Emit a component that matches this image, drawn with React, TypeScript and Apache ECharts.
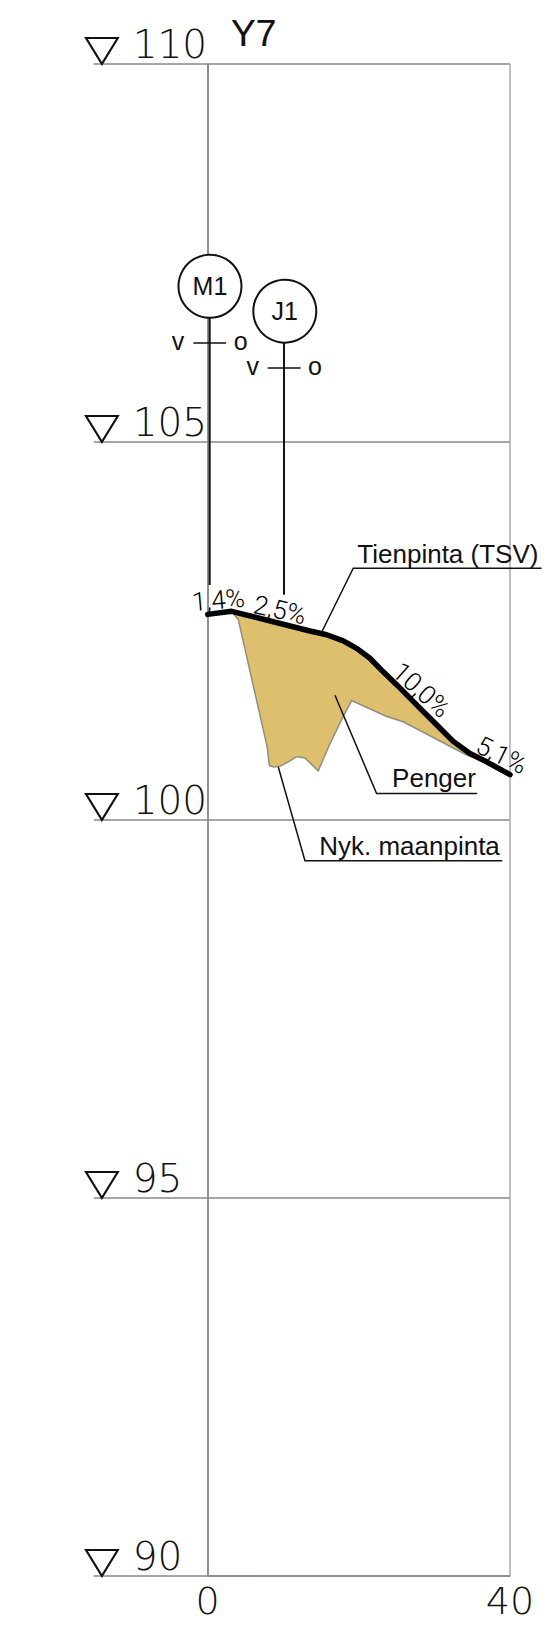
import React, { useEffect, useRef } from "react";
import * as echarts from "echarts";

const xTicks = [0, 40];
const elevations = [90, 95, 100, 105, 110];

const roadSurface: number[][] = [
  [0, 102.72], [3.17, 102.76], [13.53, 102.5], [15.74, 102.45], [17.94, 102.37], [19.71, 102.27],
  [21.47, 102.14], [23.23, 101.96], [25, 101.79], [28.08, 101.48], [30.29, 101.26], [32.49, 101.04],
  [34.7, 100.88], [36.9, 100.77], [40, 100.6],
];
const embankment: number[][] = [
  [3.17, 102.76], [13.53, 102.5], [15.74, 102.45], [17.94, 102.37], [19.71, 102.27],
  [21.47, 102.14], [23.23, 101.96], [25, 101.79], [28.08, 101.48], [30.29, 101.26], [32.49, 101.04],
  [34.7, 100.88], [36.9, 100.77],
  [34.26, 100.86], [25.87, 101.3], [23.68, 101.37], [19.05, 101.58], [17.94, 101.37],
  [16.18, 101.01], [14.63, 100.65], [12.87, 100.82], [11.77, 100.84], [10.66, 100.77],
  [9.56, 100.71], [8.68, 100.7], [8.15, 100.72], [7.9, 100.95], [4.05, 102.65],
];

const leaderTien = [[15.16, 102.5], [19.26, 103.33], [44.18, 103.33]];
const leaderPenger = [[16.84, 101.65], [22.35, 100.35], [35.66, 100.35]];
const leaderNyk = [[9.34, 100.7], [12.87, 99.46], [38.97, 99.46]];
const stemM1 = [[0.26, 106.64], [0.26, 103.11]];
const stemJ1 = [[10.1, 106.32], [10.1, 102.98]];
const crossM1 = [[-1.9, 106.31], [2.44, 106.31]];
const crossJ1 = [[7.94, 105.98], [12.3, 105.98]];

const circleLabels = [
  { name: "M1", value: [0.3, 107.06] },
  { name: "J1", value: [10.2, 106.73] },
];
const sideLabels = [
  { name: "v", value: [-3.93, 106.33] },
  { name: "o", value: [4.36, 106.33] },
  { name: "v", value: [5.95, 106.0] },
  { name: "o", value: [14.2, 106.0] },
];
const calloutLabels = [
  { name: "Tienpinta (TSV)", value: [19.8, 103.52] },
  { name: "Penger", value: [24.4, 100.56] },
  { name: "Nyk. maanpinta", value: [14.75, 99.66] },
];
const slopeLabels = [
  { name: "1,4%", value: [1.4, 102.91], angle: 5 },
  { name: "2,5%", value: [9.56, 102.78], angle: -13 },
  { name: "10,0%", value: [28.3, 101.72], angle: -42 },
  { name: "5,1%", value: [38.9, 100.86], angle: -26 },
];
const markerX = -14;

const SANS = "Liberation Sans";
const THIN = "Roboto";
const AXIS_FONT = "DejaVu Sans";

const thinLeaders = [leaderTien, leaderPenger, leaderNyk, crossM1, crossJ1];
const stems = [stemM1, stemJ1];

function polylines(name: string, lines: number[][][], width: number) {
  return {
    type: "custom", name, coordinateSystem: "cartesian2d", clip: false, z: 6,
    data: lines.map((_, i) => [i]),
    encode: { x: 0 },
    renderItem: (params: any, api: any) => ({
      type: "polyline",
      shape: { points: lines[params.dataIndex].map((p) => api.coord(p)) },
      style: { fill: "none", stroke: "#111", lineWidth: width },
    }),
  };
}

const solidLabel = { itemStyle: { opacity: 1 } };

export default function App() {
  const ref = useRef<HTMLDivElement>(null);
  useEffect(() => {
    const chart = echarts.init(ref.current!, undefined, { renderer: "svg" });
    chart.setOption({
      animation: false,
      backgroundColor: "#fff",
      title: {
        text: "Y7", left: 226, top: 10,
        textStyle: {
          fontFamily: SANS, fontSize: 37, fontWeight: "normal", color: "#111",
          textBorderColor: "#111", textBorderWidth: 0.2,
        },
      },
      grid: { left: 207.7, top: 64, width: 302.3, height: 1512, containLabel: false },
      xAxis: {
        type: "value", min: 0, max: 40, interval: 40,
        axisLine: { show: true, lineStyle: { color: "#888", width: 1.5 } },
        axisTick: { show: false },
        splitLine: { show: true, lineStyle: { color: ["#888", "#aaa"], width: 1.5 } },
        axisLabel: {
          margin: 6, fontFamily: AXIS_FONT, fontWeight: 200, fontSize: 38, color: "#111",
          formatter: (v: number) => (xTicks.includes(v) ? String(v) : ""),
        },
      },
      yAxis: {
        type: "value", min: 90, max: 110, interval: 5,
        axisLine: { show: true, onZero: false, lineStyle: { color: "#888", width: 1.5 } },
        axisTick: { show: true, length: 114, lineStyle: { color: "#888", width: 1.5 } },
        splitLine: { show: true, lineStyle: { color: "#888", width: 1.5 } },
        axisLabel: {
          margin: 75, align: "left", verticalAlign: "bottom", lineHeight: 40,
          fontFamily: AXIS_FONT, fontWeight: 200, fontSize: 39, color: "#111",
          formatter: (v: number) => (elevations.includes(v) ? String(v) : ""),
        },
      },
      series: [
        {
          type: "custom", coordinateSystem: "cartesian2d", clip: false, z: 3,
          data: embankment,
          encode: { x: 0, y: 1 },
          renderItem: (params: any, api: any) => {
            if (params.dataIndex !== 0) return { type: "group", children: [] };
            return {
              type: "polygon",
              shape: { points: embankment.map((p) => api.coord(p)) },
              style: { fill: "#DDBF6E", stroke: "#8f8f80", lineWidth: 1.5 },
            };
          },
        },
        {
          type: "line", data: roadSurface, clip: false, showSymbol: false, symbol: "none", z: 5,
          lineStyle: { color: "#000", width: 5.5, cap: "round", join: "round" },
        },
        polylines("leaders", thinLeaders, 1.5),
        polylines("stems", stems, 2),
        {
          type: "scatter", clip: false, z: 7, symbol: "circle", symbolSize: 63,
          data: circleLabels,
          itemStyle: { color: "#fff", borderColor: "#111", borderWidth: 2, opacity: 1 },
          label: {
            show: true, position: "inside", formatter: "{b}",
            fontFamily: SANS, fontSize: 25, color: "#111",
          },
        },
        {
          type: "scatter", clip: false, z: 4,
          symbol: "path://M0 0 L32 0 L16 26 Z", symbolSize: [32, 26], symbolOffset: [0, -13],
          data: elevations.map((e) => [markerX, e]),
          itemStyle: { color: "rgba(255,255,255,0)", borderColor: "#111", borderWidth: 2, opacity: 1 },
        },
        {
          type: "scatter", clip: false, z: 8, symbolSize: 0, data: sideLabels, ...solidLabel,
          label: {
            show: true, position: "inside", align: "center", verticalAlign: "middle",
            formatter: "{b}", fontFamily: SANS, fontSize: 25, color: "#111",
          },
        },
        {
          type: "scatter", clip: false, z: 8, symbolSize: 0, data: calloutLabels, ...solidLabel,
          label: {
            show: true, position: "inside", align: "left", verticalAlign: "middle",
            formatter: "{b}", fontFamily: SANS, fontSize: 26, color: "#111",
          },
        },
        {
          type: "scatter", clip: false, z: 8, symbolSize: 0, ...solidLabel,
          data: slopeLabels.map((s) => ({
            name: s.name, value: s.value,
            label: { rotate: s.angle },
          })),
          label: {
            show: true, position: "inside", align: "center", verticalAlign: "middle",
            formatter: "{b}", fontFamily: THIN, fontWeight: 300, fontSize: 26, color: "#000",
          },
        },
      ],
    });
    return () => chart.dispose();
  }, []);
  return <div ref={ref} style={{ position: "absolute", left: 0, top: 0, width: 550, height: 1630 }} />;
}
